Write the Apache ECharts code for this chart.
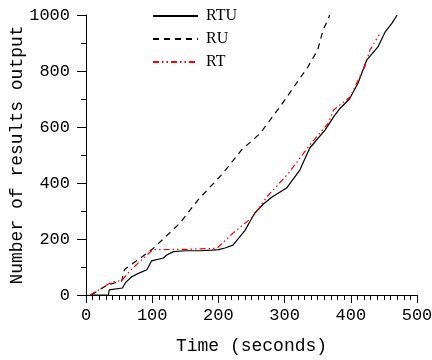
<!DOCTYPE html>
<html>
<head>
<meta charset="utf-8">
<script src="https://cdn.jsdelivr.net/npm/echarts@6/dist/echarts.min.js"></script>
<style>
  html, body { margin: 0; padding: 0; background: #fff; }
  #chart { width: 432px; height: 360px; }
</style>
</head>
<body>
<div id="chart"></div>
<script>
// time (s) / results output
const rtuTime = [8, 34, 35, 55, 60, 69, 80, 92, 99, 117, 122, 132, 150, 172, 190, 200, 210, 222, 240, 255, 268, 281, 303, 323, 338, 361, 375, 384, 398, 411, 424, 441, 452, 462, 470];
const rtuCount = [0, 0, 18, 25, 45, 65, 78, 90, 122, 132, 143, 155, 158, 158, 160, 162, 168, 178, 230, 293, 325, 350, 382, 446, 525, 589, 640, 667, 700, 757, 839, 886, 940, 970, 1000];

const ruTime = [8, 32, 54, 57, 59, 80, 101, 142, 169, 207, 235, 263, 293, 316, 335, 350, 358, 366, 368];
const ruCount = [0, 36, 50, 85, 93, 128, 165, 257, 339, 435, 518, 577, 672, 750, 814, 875, 946, 986, 1000];

const rtTime = [6, 39, 54, 70, 101, 150, 198, 222, 252, 273, 306, 338, 366, 374, 399, 406, 421, 429, 443];
const rtCount = [0, 46, 52, 95, 162, 163, 167, 221, 279, 350, 435, 536, 614, 661, 707, 743, 814, 875, 930];

const xTicks = [0, 100, 200, 300, 400, 500];
const yTicks = [0, 200, 400, 600, 800, 1000];

const pairs = (xs, ys) => xs.map((x, i) => [x, ys[i]]);

const mono = "'Liberation Mono', 'DejaVu Sans Mono', monospace";
const serif = "'Liberation Serif', 'DejaVu Serif', serif";

const chart = echarts.init(document.getElementById('chart'));
chart.setOption({
  animation: false,
  backgroundColor: '#fff',
  grid: { left: 86, right: 15, top: 15, bottom: 65, containLabel: false, outerBoundsMode: 'none' },
  legend: {
    orient: 'vertical',
    left: 152,
    top: 8,
    padding: 0,
    itemWidth: 45,
    itemHeight: 14,
    itemGap: 7,
    itemStyle: { opacity: 0, borderWidth: 0 },
    textStyle: { fontFamily: serif, fontSize: 16, color: '#000', padding: [0, 0, 0, 3] },
    data: ['RTU', 'RU', 'RT'],
  },
  xAxis: {
    type: 'value',
    min: xTicks[0],
    max: xTicks[xTicks.length - 1],
    interval: 100,
    name: 'Time (seconds)',
    nameLocation: 'middle',
    nameGap: 42,
    nameMoveOverlap: false,
    nameTextStyle: { fontFamily: mono, fontSize: 18, color: '#000' },
    axisLine: { lineStyle: { color: '#000', width: 1 } },
    axisTick: { length: 8, lineStyle: { color: '#000' } },
    minorTick: { show: true, splitNumber: 10, length: 5, lineStyle: { color: '#000' } },
    splitLine: { show: false },
    axisLabel: { fontFamily: mono, fontSize: 17, color: '#000', margin: 12 },
  },
  yAxis: {
    type: 'value',
    min: yTicks[0],
    max: yTicks[yTicks.length - 1],
    interval: 200,
    name: 'Number of results output',
    nameLocation: 'middle',
    nameGap: 60,
    nameMoveOverlap: false,
    nameTextStyle: { fontFamily: mono, fontSize: 18, color: '#000' },
    axisLine: { show: true, lineStyle: { color: '#000', width: 1 } },
    axisTick: { show: true, length: 9, lineStyle: { color: '#000' } },
    minorTick: { show: true, splitNumber: 2, length: 5, lineStyle: { color: '#000' } },
    splitLine: { show: false },
    axisLabel: { fontFamily: mono, fontSize: 17, color: '#000', margin: 16, formatter: (v) => String(v) },
  },
  series: [
    {
      name: 'RTU',
      type: 'line',
      symbol: 'none',
      data: pairs(rtuTime, rtuCount),
      lineStyle: { color: '#000', width: 1.2 },
      itemStyle: { color: '#000' },
    },
    {
      name: 'RU',
      type: 'line',
      symbol: 'none',
      data: pairs(ruTime, ruCount),
      lineStyle: { color: '#000', width: 1.2, type: [6, 5] },
      itemStyle: { color: '#000' },
    },
    {
      name: 'RT',
      type: 'line',
      symbol: 'none',
      data: pairs(rtTime, rtCount),
      lineStyle: { color: '#ff0000', width: 1.2, type: [6, 3, 1.5, 3, 1.5, 3] },
      itemStyle: { color: '#ff0000' },
    },
  ],
});
</script>
</body>
</html>
